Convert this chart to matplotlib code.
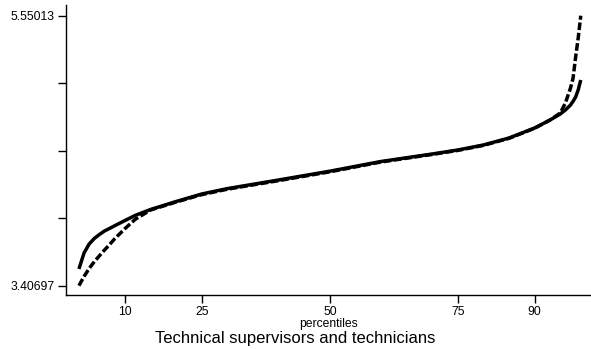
"""Quantile curves of log wages across percentiles for one occupation group."""

import matplotlib

matplotlib.use("Agg")

import matplotlib.pyplot as plt

plt.rcParams["font.family"] = ["Liberation Sans", "DejaVu Sans"]

PERCENTILES = [
    1, 2, 3, 4, 5, 6, 7, 8, 10, 12, 15, 20, 25, 30, 40, 50, 60, 70, 75, 80,
    85, 90, 93, 95, 96, 97, 97.5, 98, 98.5, 99,
]
OBSERVED = [
    3.5396, 3.6665, 3.7380, 3.7816, 3.8134, 3.8412, 3.8618, 3.8832, 3.9245, 3.9650,
    4.0119, 4.0754, 4.1349, 4.1777, 4.2460, 4.3159, 4.3929, 4.4524, 4.4841, 4.5238,
    4.5794, 4.6588, 4.7223, 4.7699, 4.8017, 4.8413, 4.8707, 4.9048, 4.9604, 5.0398,
]
COUNTERFACTUAL = [
    3.40697, 3.4800, 3.5435, 3.5975, 3.6443, 3.6904, 3.7340, 3.7800, 3.8602, 3.9341,
    4.0079, 4.0714, 4.1300, 4.1730, 4.2410, 4.3110, 4.3890, 4.4490, 4.4810, 4.5210,
    4.5770, 4.6570, 4.7220, 4.7778, 4.8572, 4.9763, 5.0557, 5.2223, 5.3732, 5.55013,
]
X_TICKS = [10, 25, 50, 75, 90]
Y_MIN, Y_MAX = 3.40697, 5.55013
TITLE = "Technical supervisors and technicians"


def main() -> None:
    fig = plt.figure(figsize=(5.91, 3.49), dpi=100)
    ax = fig.add_axes([0.1117, 0.1539, 0.8883, 0.8318])

    ax.plot(PERCENTILES, OBSERVED, color="black", linewidth=2.5,
            solid_capstyle="butt", solid_joinstyle="round")
    ax.plot(PERCENTILES, COUNTERFACTUAL, color="black", linewidth=2.5,
            linestyle=(0, (2.2, 0.8)), dash_joinstyle="round")

    step = (Y_MAX - Y_MIN) / 4
    y_ticks = [Y_MIN + i * step for i in range(5)]
    ax.set_yticks(y_ticks)
    ax.set_yticklabels([f"{Y_MIN:g}", "", "", "", f"{Y_MAX:g}"])
    ax.set_xticks(X_TICKS)

    ax.set_xlim(-1.52, 101.0)
    ax.set_ylim(Y_MIN - 0.0762, Y_MAX + 0.085)

    for side in ("top", "right"):
        ax.spines[side].set_visible(False)
    for side in ("left", "bottom"):
        ax.spines[side].set_linewidth(1.0)
    ax.tick_params(axis="both", direction="out", length=6, width=1.0, labelsize=8.7, pad=2)

    ax.set_xlabel("percentiles", fontsize=8.7, labelpad=0)
    fig.text(0.5, 0.017, TITLE, ha="center", va="baseline", fontsize=12)

    fig.savefig("out.png", dpi=100)
    plt.close(fig)


if __name__ == "__main__":
    main()
